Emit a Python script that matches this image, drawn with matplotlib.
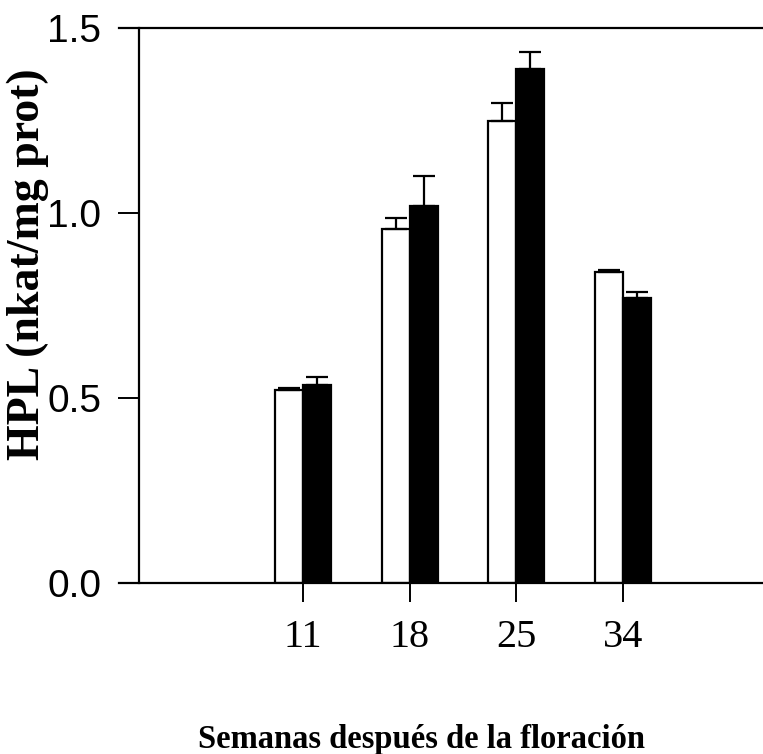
import matplotlib.pyplot as plt
import numpy as np

# Datos: actividad HPL por semana tras la floración
semanas = ["11", "18", "25", "34"]
blanco = [0.522, 0.957, 1.249, 0.840]
blanco_err = [0.006, 0.029, 0.048, 0.006]
negro = [0.535, 1.019, 1.389, 0.769]
negro_err = [0.022, 0.081, 0.046, 0.017]

fig = plt.figure(figsize=(7.63, 7.54), dpi=100)
ax = fig.add_axes([0.156, 0.2268, 0.844, 0.7361])

x = np.arange(len(semanas))
w = 0.262
ceros = np.zeros(len(semanas))

ax.bar(x - w / 2, blanco, w, color="white", edgecolor="black", linewidth=1.6, zorder=2)
ax.bar(x + w / 2, negro, w, color="black", edgecolor="black", linewidth=1.6, zorder=2)
ax.errorbar(x - w / 2, blanco, yerr=[ceros, blanco_err], fmt="none", ecolor="black",
            elinewidth=1.6, capsize=8, capthick=1.6, zorder=3)
ax.errorbar(x + w / 2, negro, yerr=[ceros, negro_err], fmt="none", ecolor="black",
            elinewidth=1.6, capsize=8, capthick=1.6, zorder=3)

ax.set_xlim(-1.725, 4.311)
ax.set_ylim(0, 1.5)

# ejes: superior e inferior largos, izquierdo desplazado, sin derecho
ax.spines["right"].set_visible(False)
ax.spines["left"].set_position(("axes", 0.031))
for s in ["top", "bottom", "left"]:
    ax.spines[s].set_linewidth(1.6)

ax.set_yticks([0.0, 0.5, 1.0, 1.5])
ax.set_yticklabels(["0.0", "0.5", "1.0", "1.5"], family="Liberation Sans", fontsize=28)
ax.set_xticks(x)
ax.set_xticklabels(semanas, family="Liberation Serif", fontsize=29)
ax.tick_params(axis="y", direction="out", length=15, width=1.4, pad=12)
ax.tick_params(axis="x", direction="out", length=14, width=1.4, pad=12)

fig.text(0.036, 0.649, "HPL (nkat/mg prot)", rotation=90, ha="center", va="center",
         family="Liberation Serif", fontweight="bold", fontsize=33)
fig.text(0.552, 0.008, "Semanas después de la floración", ha="center", va="baseline",
         family="Liberation Serif", fontweight="bold", fontsize=23.5)

plt.savefig("out.png", dpi=100)
